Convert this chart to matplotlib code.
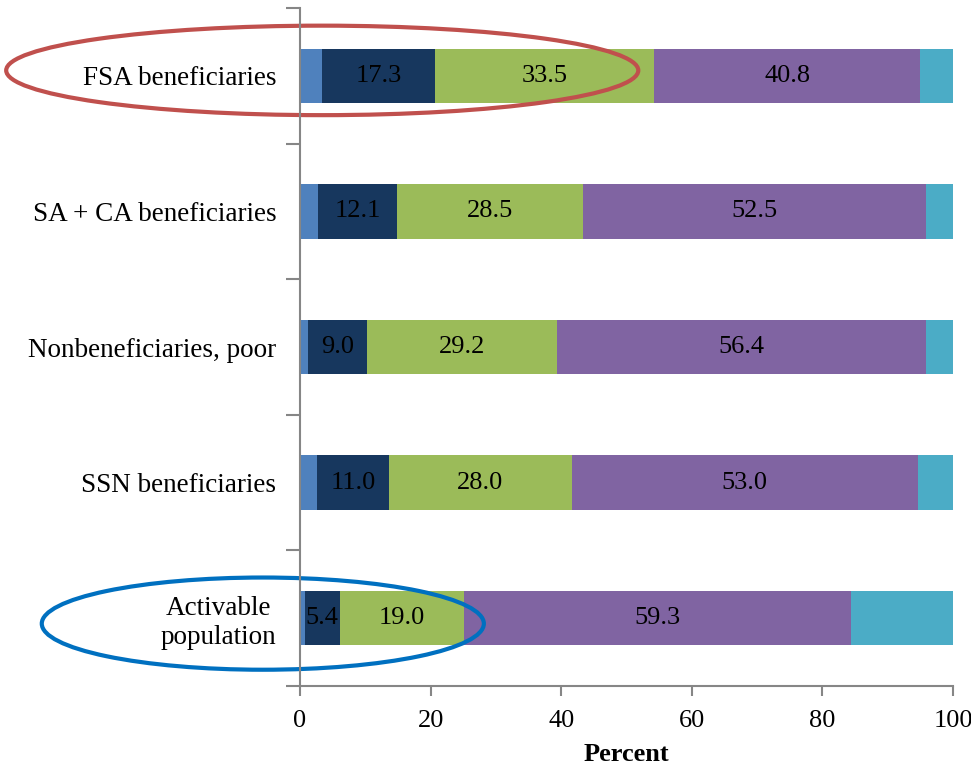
import numpy as np
import matplotlib.pyplot as plt
from matplotlib.patches import Ellipse

plt.rcParams['font.family'] = ['Liberation Serif', 'DejaVu Serif']

groups = ["FSA beneficiaries", "SA + CA beneficiaries", "Nonbeneficiaries, poor",
          "SSN beneficiaries", "Activable\npopulation"]
seg1 = [3.4, 2.8, 1.2, 2.6, 0.7]
seg2 = [17.3, 12.1, 9.0, 11.0, 5.4]
seg3 = [33.5, 28.5, 29.2, 28.0, 19.0]
seg4 = [40.8, 52.5, 56.4, 53.0, 59.3]
seg5 = [5.0, 4.1, 4.2, 5.4, 15.6]
colors = ["#4F81BD", "#17375E", "#9BBB59", "#8064A2", "#4BACC6"]
labelled = [False, True, True, True, False]

fig = plt.figure(figsize=(9.71, 7.72), dpi=100)
ax = fig.add_axes([0.309, 0.1114, 0.6725, 0.8782])

y = np.arange(len(groups))[::-1]
left = np.zeros(len(groups))
for vals, c, lab in zip([seg1, seg2, seg3, seg4, seg5], colors, labelled):
    vals = np.array(vals)
    ax.barh(y, vals, left=left, height=0.4, color=c, edgecolor="none")
    if lab:
        for yi, l, v in zip(y, left, vals):
            ax.text(l + v / 2, yi, f"{v:.1f}", ha="center", va="center",
                    fontsize=19, color="black")
    left = left + vals

ax.set_xlim(0, 100)
ax.set_ylim(-0.5, 4.5)
ax.set_xticks([0, 20, 40, 60, 80, 100])
ax.set_yticks(y)
ax.set_yticklabels(groups, fontsize=19.5, ha="right", multialignment="center")
ax.set_yticks(np.arange(-0.5, 5, 1), minor=True)
ax.tick_params(axis="y", which="major", length=0, pad=17)
ax.tick_params(axis="y", which="minor", length=10, width=1.5, color="#868686")
ax.tick_params(axis="x", length=7, width=1.5, color="#868686", labelsize=19, pad=10)
ax.set_xlabel("Percent", fontsize=19, fontweight="bold", labelpad=8)

for s in ["top", "right"]:
    ax.spines[s].set_visible(False)
for s in ["left", "bottom"]:
    ax.spines[s].set_color("#868686")
    ax.spines[s].set_linewidth(1.5)

ax.add_patch(Ellipse((3.4, 4.04), 96.8, 0.66, fill=False, edgecolor="#C0504D",
                     linewidth=3, clip_on=False))
ax.add_patch(Ellipse((-5.7, -0.04), 67.7, 0.68, fill=False, edgecolor="#0070C0",
                     linewidth=3, clip_on=False))

fig.savefig("out.png")
